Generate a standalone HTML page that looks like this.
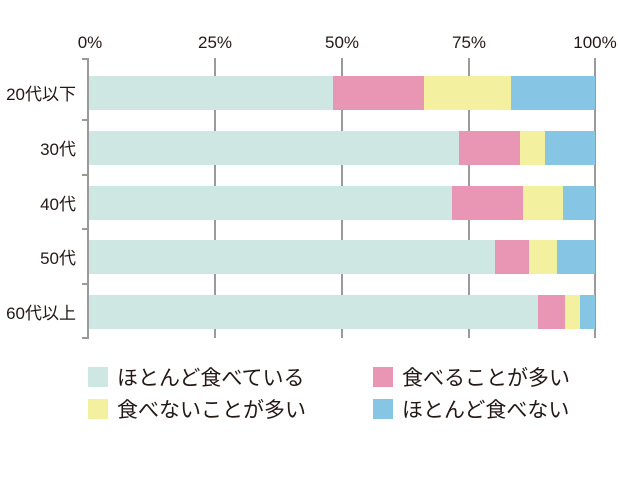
<!DOCTYPE html>
<html><head><meta charset="utf-8"><style>
body{margin:0;background:#fff;width:618px;height:478px;overflow:hidden}
text{font-family:"Liberation Sans","Noto Sans CJK JP",sans-serif;fill:#231815}
</style></head><body>
<svg width="618" height="478" viewBox="0 0 618 478">
<g font-size="17">
<text x="90" y="48" text-anchor="middle">0%</text>
<text x="215" y="48" text-anchor="middle">25%</text>
<text x="342" y="48" text-anchor="middle">50%</text>
<text x="469" y="48" text-anchor="middle">75%</text>
<text x="595" y="48" text-anchor="middle">100%</text>
</g>
<g stroke="#9a9a9a" stroke-width="2">
<line x1="215" y1="58" x2="215" y2="338"/><line x1="342" y1="58" x2="342" y2="338"/>
<line x1="469" y1="58" x2="469" y2="338"/><line x1="595" y1="58" x2="595" y2="338"/>
</g>
<g>
<rect x="88" y="76" width="245" height="34" fill="#cfe7e3"/><rect x="333" y="76" width="91" height="34" fill="#e996b5"/><rect x="424" y="76" width="87" height="34" fill="#f3f0a0"/><rect x="511" y="76" width="84" height="34" fill="#86c5e3"/>
<rect x="88" y="131" width="371" height="34" fill="#cfe7e3"/><rect x="459" y="131" width="61" height="34" fill="#e996b5"/><rect x="520" y="131" width="25" height="34" fill="#f3f0a0"/><rect x="545" y="131" width="50" height="34" fill="#86c5e3"/>
<rect x="88" y="186" width="364" height="34" fill="#cfe7e3"/><rect x="452" y="186" width="71" height="34" fill="#e996b5"/><rect x="523" y="186" width="40" height="34" fill="#f3f0a0"/><rect x="563" y="186" width="32" height="34" fill="#86c5e3"/>
<rect x="88" y="240" width="407" height="34" fill="#cfe7e3"/><rect x="495" y="240" width="34" height="34" fill="#e996b5"/><rect x="529" y="240" width="28" height="34" fill="#f3f0a0"/><rect x="557" y="240" width="38" height="34" fill="#86c5e3"/>
<rect x="88" y="295" width="450" height="34" fill="#cfe7e3"/><rect x="538" y="295" width="27" height="34" fill="#e996b5"/><rect x="565" y="295" width="15" height="34" fill="#f3f0a0"/><rect x="580" y="295" width="15" height="34" fill="#86c5e3"/>
</g>
<g stroke="#9a9a9a" stroke-width="2">
<line x1="88" y1="58" x2="88" y2="339"/>
<line x1="82" y1="59" x2="88" y2="59"/><line x1="82" y1="120" x2="88" y2="120"/><line x1="82" y1="175" x2="88" y2="175"/>
<line x1="82" y1="229" x2="88" y2="229"/><line x1="82" y1="284" x2="88" y2="284"/><line x1="82" y1="338" x2="88" y2="338"/>
</g>
<g font-size="17" text-anchor="end">
<text x="76" y="100">20代以下</text>
<text x="76" y="155">30代</text>
<text x="76" y="210">40代</text>
<text x="76" y="264">50代</text>
<text x="76" y="319">60代以上</text>
</g>
<rect x="88" y="367" width="20" height="20" fill="#cfe7e3"/>
<rect x="373" y="367" width="20" height="20" fill="#e996b5"/>
<rect x="88" y="399" width="20" height="20" fill="#f3f0a0"/>
<rect x="373" y="399" width="20" height="20" fill="#86c5e3"/>
<g font-size="21">
<text x="117" y="385">ほとんど食べている</text>
<text x="402" y="385">食べることが多い</text>
<text x="117" y="417">食べないことが多い</text>
<text x="402" y="417">ほとんど食べない</text>
</g>
</svg>
</body></html>
